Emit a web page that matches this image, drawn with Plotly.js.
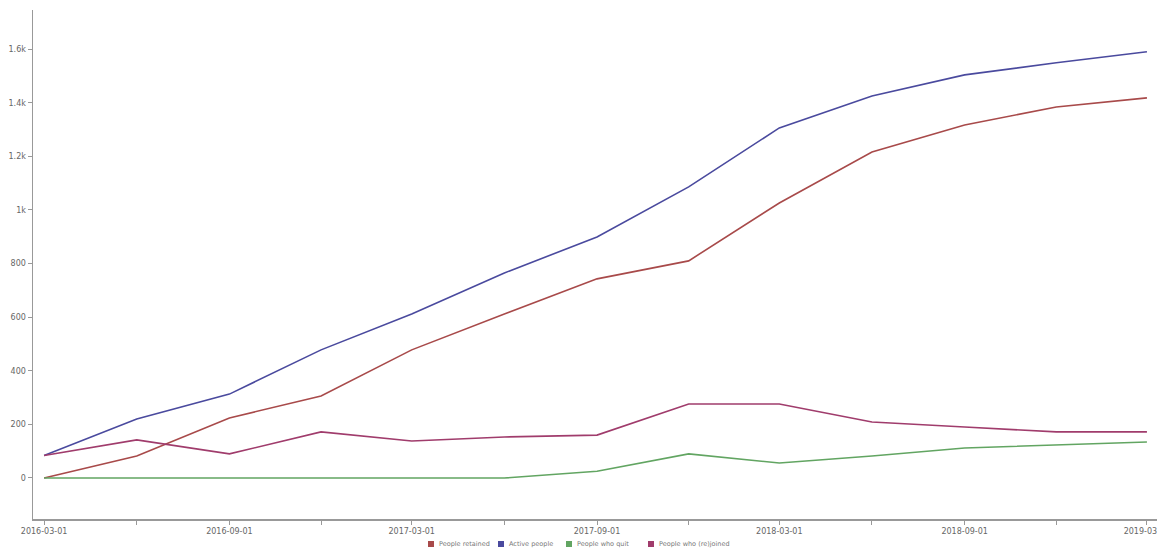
<!DOCTYPE html>
<html>
<head>
<meta charset="utf-8">
<script src="https://cdn.plot.ly/plotly-3.0.1.min.js"></script>
<style>
html,body{margin:0;padding:0;background:#fff;}
#chart{width:1157px;height:551px;}
</style>
</head>
<body>
<div id="chart"></div>
<script>
const dates = ["2016-03-01","2016-06-01","2016-09-01","2016-12-01","2017-03-01","2017-06-01","2017-09-01","2017-12-01","2018-03-01","2018-06-01","2018-09-01","2018-12-01","2019-03-01"];
const peopleRetained = [0, 82, 224, 306, 478, 612, 743, 810, 1026, 1216, 1317, 1384, 1418];
const activePeople   = [84, 220, 313, 478, 612, 765, 899, 1086, 1306, 1425, 1504, 1549, 1590];
const peopleQuit     = [0, 0, 0, 0, 0, 0, 25, 90, 56, 82, 112, 123, 134];
const peopleRejoined = [84, 142, 90, 172, 138, 153, 160, 276, 276, 209, 190, 172, 172];
const seriesNames = ["People retained","Active people","People who quit","People who (re)joined"];
const seriesColors = ["#a84a4a","#4a4a9e","#62a562","#a03c6c"];
const seriesValues = [peopleRetained, activePeople, peopleQuit, peopleRejoined];

const traces = seriesValues.map((vals, i) => ({
  x: dates, y: vals, type: 'scatter', mode: 'lines', name: seriesNames[i],
  line: {color: seriesColors[i], width: 1.6}, showlegend: false
}));

// compact legend: a coloured square plus a grey label per series
const legendX = [428, 498, 566, 648];
const annotations = [];
const shapes = [];
seriesNames.forEach((n, i) => {
  const px = legendX[i];
  shapes.push({type: 'rect', xref: 'paper', yref: 'paper',
    x0: (px - 33) / 1124, x1: (px - 33 + 6) / 1124,
    y0: (519 - 547) / 509, y1: (519 - 541) / 509,
    fillcolor: seriesColors[i], line: {width: 0}});
  annotations.push({xref: 'paper', yref: 'paper',
    x: (px - 33 + 9) / 1124, y: (519 - 544) / 509, xanchor: 'left', yanchor: 'middle',
    showarrow: false, text: n,
    font: {family: 'DejaVu Sans, sans-serif', size: 6.5, color: '#777'}});
});

const layout = {
  width: 1157, height: 551,
  margin: {l: 33, r: 0, t: 10, b: 32, autoexpand: false},
  paper_bgcolor: '#fff', plot_bgcolor: '#fff',
  showlegend: false,
  annotations: annotations,
  shapes: shapes,
  xaxis: {
    type: 'date', range: ['2016-02-19', '2019-03-11'],
    tickmode: 'linear', tick0: '2016-03-01', dtick: 'M6', tickformat: '%Y-%m-%d',
    ticks: 'outside', ticklen: 4, tickcolor: '#999', ticklabeloverflow: 'allow',
    minor: {dtick: 'M3', tick0: '2016-03-01', ticks: 'outside', ticklen: 4, tickcolor: '#999'},
    showgrid: false, zeroline: false, showline: true, linecolor: '#999', linewidth: 1.5,
    tickfont: {family: 'DejaVu Sans, sans-serif', size: 8, color: '#666'}
  },
  yaxis: {
    range: [-153, 1746], tickmode: 'linear', tick0: 0, dtick: 200, tickformat: '~s',
    ticks: 'outside', ticklen: 4, tickcolor: '#999',
    showgrid: false, zeroline: false, showline: true, linecolor: '#999', linewidth: 1.5,
    tickfont: {family: 'DejaVu Sans, sans-serif', size: 8, color: '#666'}
  }
};
Plotly.newPlot('chart', traces, layout, {displayModeBar: false, staticPlot: true});
</script>
</body>
</html>
